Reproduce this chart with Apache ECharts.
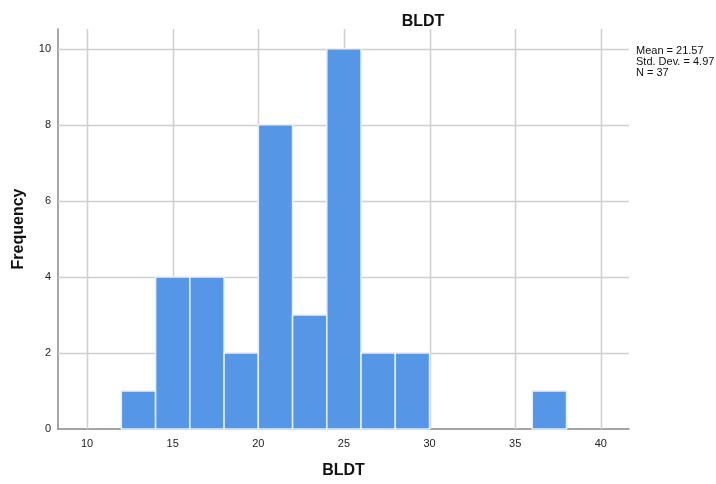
<!DOCTYPE html>
<html>
<head>
<meta charset="utf-8">
<script src="https://cdn.jsdelivr.net/npm/echarts@6/dist/echarts.min.js"></script>
<style>
html, body { margin: 0; padding: 0; background: #fff; }
#main { width: 716px; height: 484px; }
</style>
</head>
<body>
<div id="main"></div>
<script>
// histogram bins (width 2) and frequencies
var binStarts = [12, 14, 16, 18, 20, 22, 24, 26, 28, 30, 32, 34, 36];
var binWidth = 2;
var counts = [1, 4, 4, 2, 8, 3, 10, 2, 2, 0, 0, 0, 1];
var xTicks = [10, 15, 20, 25, 30, 35, 40];
var yTicks = [0, 2, 4, 6, 8, 10];
var statsLines = ['Mean = 21.57', 'Std. Dev. = 4.97', 'N = 37'];

var xMin = 8.3, xMax = 41.65, yMax = 10.52;

var barData = [];
for (var i = 0; i < binStarts.length; i++) {
    if (counts[i] > 0) barData.push([binStarts[i], binStarts[i] + binWidth, counts[i]]);
}

var myChart = echarts.init(document.getElementById('main'));
myChart.setOption({
    animation: false,
    backgroundColor: '#fff',
    title: {
        text: 'BLDT',
        left: 418,
        top: 9,
        textAlign: 'center',
        textStyle: { fontFamily: 'Liberation Sans', fontSize: 16, fontWeight: 'bold', color: '#111' }
    },
    grid: { left: 58, right: 87, top: 29, bottom: 50 },
    graphic: [{
        type: 'text',
        left: 636,
        top: 45,
        style: {
            text: statsLines.join('\n'),
            font: '11px "Liberation Sans"',
            lineHeight: 11,
            fill: '#111'
        }
    }],
    xAxis: {
        type: 'value',
        min: xMin,
        max: xMax,
        name: 'BLDT',
        nameLocation: 'middle',
        nameGap: 34,
        nameTextStyle: { fontFamily: 'Liberation Sans', fontSize: 16, fontWeight: 'bold', color: '#111' },
        axisLine: { show: true, lineStyle: { color: '#888', width: 1.5 } },
        axisTick: { show: false },
        axisLabel: {
            fontFamily: 'Liberation Sans', fontSize: 11, color: '#222', margin: 9,
            customValues: xTicks
        },
        splitLine: { show: false }
    },
    yAxis: {
        type: 'value',
        min: 0,
        max: yMax,
        name: 'Frequency',
        nameLocation: 'middle',
        nameGap: 31,
        nameTextStyle: { fontFamily: 'Liberation Sans', fontSize: 16, fontWeight: 'bold', color: '#111' },
        axisLine: { show: true, lineStyle: { color: '#888', width: 1.5 } },
        axisTick: { show: false },
        axisLabel: {
            fontFamily: 'Liberation Sans', fontSize: 11, color: '#222', margin: 7,
            customValues: yTicks
        },
        splitLine: { show: false }
    },
    series: [{
        // gridlines drawn through the axis scales
        type: 'custom',
        silent: true,
        z: 1,
        data: [0],
        renderItem: function (params, api) {
            var children = [];
            var x0 = api.coord([xMin, 0])[0], x1 = api.coord([xMax, 0])[0];
            var yTop = api.coord([0, yMax])[1], yBot = api.coord([0, 0])[1];
            xTicks.forEach(function (t) {
                var x = Math.round(api.coord([t, 0])[0]) + 0.5;
                children.push({ type: 'line', shape: { x1: x, y1: yTop, x2: x, y2: yBot },
                    style: { stroke: '#cfcfcf', lineWidth: 1.5 } });
            });
            yTicks.forEach(function (t) {
                if (t === 0) return;
                var y = Math.round(api.coord([0, t])[1]) + 0.5;
                children.push({ type: 'line', shape: { x1: x0, y1: y, x2: x1, y2: y },
                    style: { stroke: '#cfcfcf', lineWidth: 1.5 } });
            });
            return { type: 'group', children: children };
        }
    }, {
        type: 'custom',
        z: 2,
        data: barData,
        encode: { x: [0, 1], y: 2 },
        renderItem: function (params, api) {
            var p0 = api.coord([api.value(0), 0]);
            var p1 = api.coord([api.value(1), api.value(2)]);
            return {
                type: 'rect',
                shape: { x: p0[0], y: p1[1], width: p1[0] - p0[0], height: p0[1] - p1[1] },
                style: { fill: '#5596e6', stroke: '#e8f0fa', lineWidth: 1.5 }
            };
        }
    }]
});
</script>
</body>
</html>
